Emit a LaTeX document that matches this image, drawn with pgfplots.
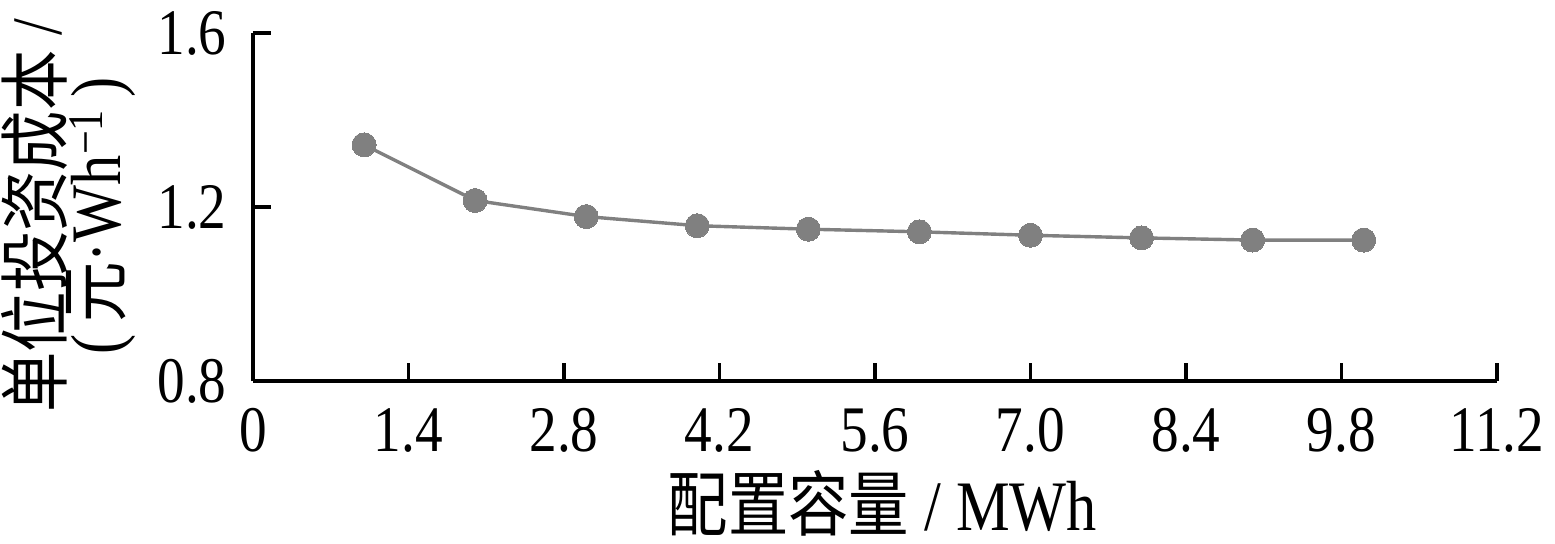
\documentclass[border=0pt]{standalone}
\usepackage{fontspec}
\usepackage{pgfplots}
\pgfplotsset{compat=1.18}
\setmainfont{Liberation Serif}[FakeStretch=0.85]
\newfontfamily\cjk{Noto Sans CJK SC}[FakeStretch=0.85]
\definecolor{ser}{HTML}{808080}
\newcommand\ylfont{\fontsize{35.5}{36.5}\selectfont\lineskiplimit=-100pt\relax\lineskip=0pt\relax}
\begin{document}
\begin{tikzpicture}
\path[use as bounding box] (0,0) rectangle (777.5pt,271.5pt);
\begin{axis}[
  at={(126.5pt,81pt)}, anchor=south west,
  scale only axis, width=622pt, height=174pt,
  xmin=0, xmax=11.2, ymin=0.8, ymax=1.6,
  axis x line*=bottom, axis y line*=left,
  axis line style={line width=1.6pt, black, -},
  every tick/.style={line width=1.6pt, black},
  tick align=inside, major tick length=9pt,
  xtick={0,1.4,2.8,4.2,5.6,7.0,8.4,9.8,11.2},
  xticklabels={0,1.4,2.8,4.2,5.6,7.0,8.4,9.8,11.2},
  ytick={0.8,1.2,1.6},
  yticklabels={0.8,1.2,1.6},
  /pgf/number format/assume math mode=true,
  xticklabel style={font=\fontsize{32.5}{38}\selectfont, anchor=center, inner sep=0pt, yshift=-24.5pt},
  yticklabel style={font=\fontsize{32.5}{38}\selectfont, anchor=east, inner sep=0pt, xshift=-13pt},
  xlabel={{\cjk 配置容量} / MWh},
  xlabel style={font=\fontsize{35.5}{40}\selectfont, at={(axis description cs:0.506,-0.35)}, anchor=center, inner sep=0pt},
  ylabel={{\cjk 单位投资成本} /\\[-7pt](\,{\cjk 元}·Wh\textsuperscript{−1}\,)},
  ylabel style={font=\ylfont, align=center, at={(axis description cs:-0.148,0.475)}, anchor=center, rotate=0, inner sep=0pt},
  clip=false,
]
\addplot[color=ser, line width=1.7pt, mark=*, mark size=6pt, mark options={fill=ser, draw=ser, line width=0pt}]
coordinates {
(1,1.343) (2,1.215) (3,1.178) (4,1.157) (5,1.149) (6,1.143) (7,1.135) (8,1.129) (9,1.124) (10,1.124)
};
\end{axis}
\end{tikzpicture}
\end{document}
